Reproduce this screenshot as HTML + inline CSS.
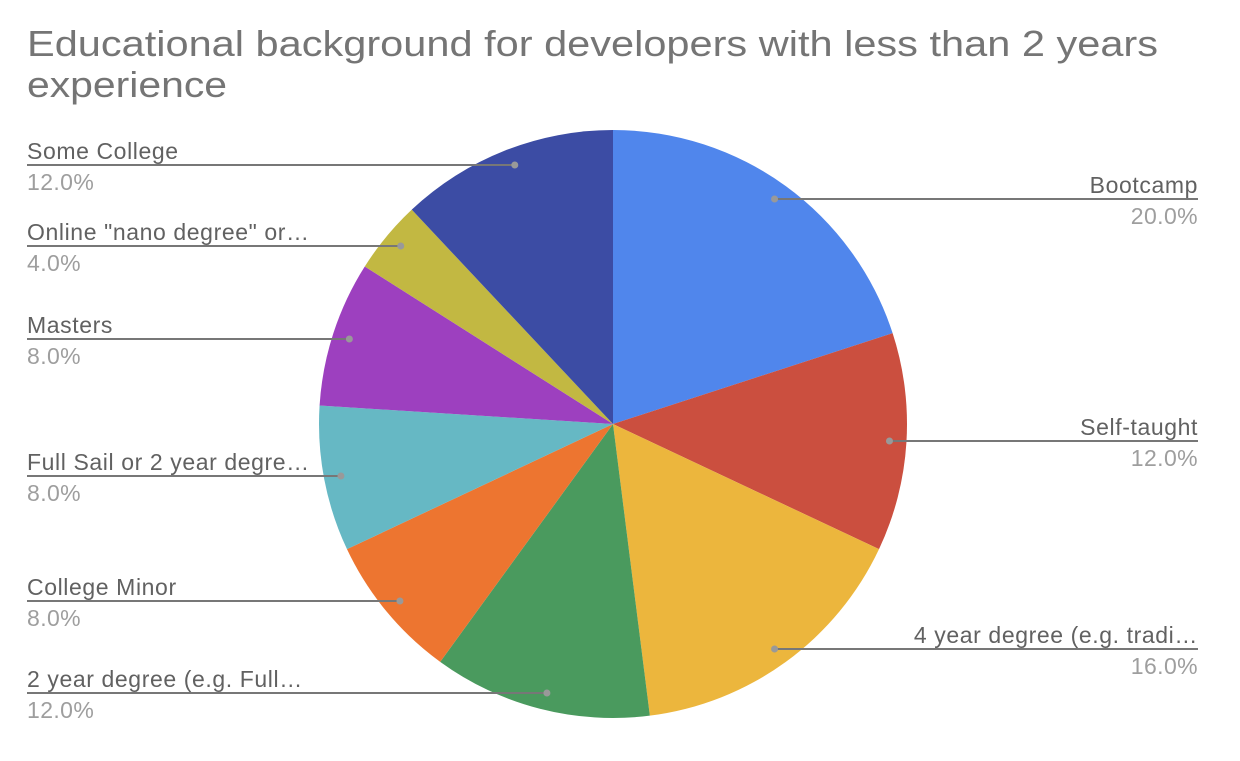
<!DOCTYPE html>
<html><head><meta charset="utf-8"><style>
body{margin:0;background:#fff;width:1240px;height:756px;overflow:hidden;font-family:"Liberation Sans",sans-serif}
</style></head><body>
<svg width="1240" height="756">
<text x="27" y="56" font-size="36" fill="#757575" textLength="1131" lengthAdjust="spacingAndGlyphs">Educational background for developers with less than 2 years</text>
<text x="27" y="97" font-size="36" fill="#757575" textLength="200" lengthAdjust="spacingAndGlyphs">experience</text>
<g id="slices"></g><g id="labels"></g>
</svg>
<script>
const categories=["Bootcamp","Self-taught","4 year degree (e.g. tradi…","2 year degree (e.g. Full…","College Minor","Full Sail or 2 year degre…","Masters","Online \"nano degree\" or…","Some College"];
const values=[20,12,16,12,8,8,8,4,12];
const colors=["#5086ec","#cb4f3f","#ecb63d","#4a9a5e","#ed7530","#66b8c4","#9d40bf","#c2b842","#3c4ca4"];
const lineY=[199,441,649,693,601,476,339,246,165];
const cx=613,cy=424,R=294,rd=277,NS="http://www.w3.org/2000/svg";
const total=values.reduce((a,b)=>a+b,0);
const sg=document.getElementById('slices'),lg=document.getElementById('labels');
let a0=0;
function pt(a,r){return [cx+r*Math.sin(a),cy-r*Math.cos(a)];}
values.forEach((v,i)=>{
 const a1=a0+v/total*2*Math.PI;
 const p0=pt(a0,R),p1=pt(a1,R);
 const p=document.createElementNS(NS,'path');
 p.setAttribute('d',`M${cx},${cy}L${p0[0]},${p0[1]}A${R},${R} 0 ${a1-a0>Math.PI?1:0} 1 ${p1[0]},${p1[1]}Z`);
 p.setAttribute('fill',colors[i]);
 
 
 sg.appendChild(p);
 const mid=(a0+a1)/2,right=Math.sin(mid)>0;
 const y=lineY[i],dx=Math.sqrt(Math.max(0,rd*rd-(y-cy)*(y-cy)));
 const dxp=right?cx+dx:cx-dx, ex=right?1198:27;
 const l=document.createElementNS(NS,'line');
 l.setAttribute('x1',dxp);l.setAttribute('x2',ex);l.setAttribute('y1',y);l.setAttribute('y2',y);
 l.setAttribute('stroke','#777');l.setAttribute('stroke-width','2');
 
 
 lg.appendChild(l);
 const c=document.createElementNS(NS,'circle');
 c.setAttribute('cx',dxp);c.setAttribute('cy',y);c.setAttribute('r',3.5);c.setAttribute('fill','#999');
 
 
 lg.appendChild(c);
 const t=document.createElementNS(NS,'text');
 t.setAttribute('x',ex);t.setAttribute('y',y-6);t.setAttribute('font-size','23');t.setAttribute('fill','#616161');
 t.setAttribute('letter-spacing','0.6');
 t.setAttribute('text-anchor',right?'end':'start');t.textContent=categories[i];
 
 
 lg.appendChild(t);
 const t2=document.createElementNS(NS,'text');
 t2.setAttribute('x',ex);t2.setAttribute('y',y+25);t2.setAttribute('font-size','23');t2.setAttribute('fill','#9e9e9e');
 t2.setAttribute('letter-spacing','0.4');
 t2.setAttribute('text-anchor',right?'end':'start');t2.textContent=(v/total*100).toFixed(1)+'%';
 
 
 lg.appendChild(t2);
 a0=a1;
});
</script>
</body></html>
